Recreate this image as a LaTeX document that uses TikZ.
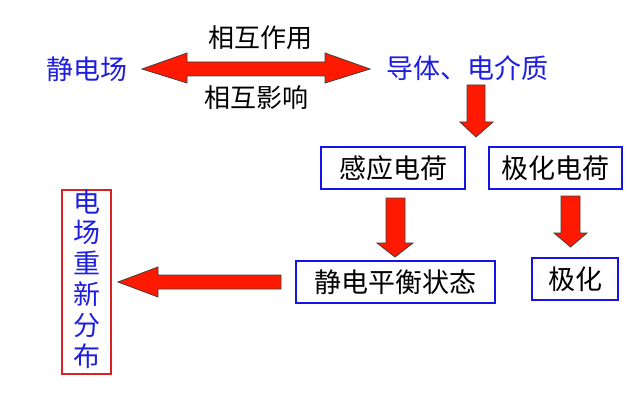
\documentclass[tikz,border=0pt]{standalone}
\usepackage{fontspec}
\setmainfont{Noto Sans CJK SC}
\definecolor{tblue}{RGB}{30,30,225}
\definecolor{bblue}{RGB}{20,20,230}
\definecolor{ared}{RGB}{255,25,0}
\definecolor{bred}{RGB}{215,35,35}
\definecolor{aline}{RGB}{70,60,60}
\begin{document}
\begin{tikzpicture}[x=1pt,y=-1pt,
  bluetxt/.style={text=tblue,font=\fontsize{27}{30}\selectfont,inner sep=0pt},
  blacktxt/.style={text=black,font=\fontsize{26}{29}\selectfont,inner sep=0pt},
  bluebox/.style={draw=bblue,line width=2pt,text=black,font=\fontsize{27}{30}\selectfont,inner sep=0pt,minimum height=42pt},
  redbox/.style={draw=bred,line width=1.8pt,text=tblue,font=\fontsize{27}{27.5}\selectfont,inner sep=0pt,minimum width=49pt,minimum height=182pt},
  fatarrow/.style={fill=ared,draw=aline,line width=0.8pt,line join=miter}]
\useasboundingbox (0,0) rectangle (644,414);
\fill[white] (0,0) rectangle (644,414);
% texts
\node[bluetxt] (jdc) at (87,69) {静电场};
\node[bluetxt] (dt) at (467,68) {导体、电介质};
\node[blacktxt] (xhzy) at (260,38) {相互作用};
\node[blacktxt] (xhyx) at (256,98) {相互影响};
% boxes
\node[bluebox,minimum width=144pt] (gy) at (393,168) {感应电荷};
\node[bluebox,minimum width=133pt] (jh) at (555.5,168) {极化电荷};
\node[bluebox,minimum width=199pt] (jp) at (395.5,282) {静电平衡状态};
\node[bluebox,minimum width=86pt] (jhh) at (575,279) {极化};
\node[redbox] (cf) at (86.5,282) {\begin{tabular}{@{}c@{}}电\\场\\重\\新\\分\\布\end{tabular}};
% double arrow between jdc and dt
\coordinate (dl) at (142,69);
\coordinate (dr) at (370,69);
\draw[fatarrow] (dl) -- (187,53) -- (187,62) -- (325,62) -- (325,53) -- (dr) -- (325,83) -- (325,76) -- (187,76) -- (187,83) -- cycle;
% down arrow dt -> boxes
\coordinate (a1) at (476,137);
\draw[fatarrow] (467,85) -- (485,85) -- (485,122) -- (493,122) -- (a1) -- (460,122) -- (467,122) -- cycle;
% down arrow gy -> jp
\coordinate (a2) at (395,257);
\draw[fatarrow] (386,198) -- (405,198) -- (405,243) -- (413,243) -- (a2) -- (377,243) -- (386,243) -- cycle;
% down arrow jh -> jhh
\coordinate (a3) at (570.5,247);
\draw[fatarrow] (561,196) -- (580,196) -- (580,233) -- (587,233) -- (a3) -- (554,233) -- (561,233) -- cycle;
% left arrow jp -> cf
\coordinate (a4) at (118,282);
\draw[fatarrow] (281,275) -- (281,289) -- (158,289) -- (158,297) -- (a4) -- (158,267) -- (158,275) -- cycle;
\end{tikzpicture}
\end{document}
